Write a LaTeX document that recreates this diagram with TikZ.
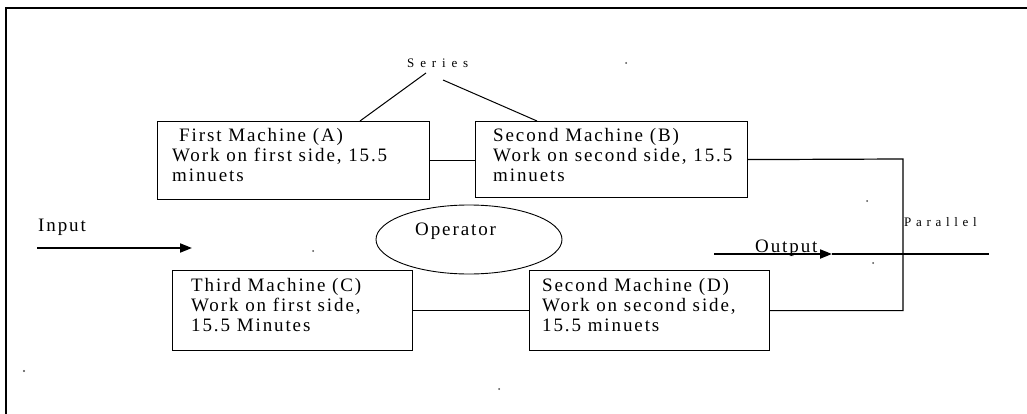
\documentclass[tikz,border=0pt]{standalone}
\usepackage{fontspec}
\setmainfont{Liberation Serif}
\usetikzlibrary{arrows.meta,shapes.geometric,calc}
\tikzset{
  box/.style={draw, line width=1.2pt, rectangle, inner sep=0pt, anchor=north west},
  txt/.style={anchor=base west, align=left, inner sep=0pt, font=\fontsize{19}{20}\selectfont\addfontfeature{LetterSpace=10}},
  tiny/.style={anchor=base west, inner sep=0pt},
  conn/.style={line width=1.2pt},
  bigarrow/.style={line width=2pt, -{Triangle[length=12pt,width=9pt]}},
  straydot/.style={fill=black!70, draw=none},
}
\begin{document}
\begin{tikzpicture}[x=1pt,y=-1pt]
\useasboundingbox (0,0) rectangle (1027,414);
% frame (top and left)
\draw[line width=2pt] (6,414) -- (6,8) -- (1027,8);

% boxes
\node[box, minimum width=272pt, minimum height=78pt] (A) at (157,121) {};
\node[box, minimum width=272pt, minimum height=76pt] (B) at (475,121) {};
\node[box, minimum width=240pt, minimum height=80pt] (C) at (172,270) {};
\node[box, minimum width=240pt, minimum height=80pt] (D) at (529,270) {};

% box texts (anchored at the baseline of the last line)
\node[txt] (At) at (172,182) {\hspace{7pt}First Machine (A)\\Work on first side, 15.5\\minuets};
\node[txt] (Bt) at (493,182) {Second Machine (B)\\Work on second side, 15.5\\minuets};
\node[txt] (Ct) at (191,331) {Third Machine (C)\\Work on first side,\\15.5 Minutes};
\node[txt] (Dt) at (542,331) {Second Machine (D)\\Work on second side,\\15.5 minuets};

% operator ellipse
\node[draw, ellipse, line width=0.9pt, minimum width=186pt, minimum height=69pt, inner sep=0pt] (O) at (469,239.5) {};
\node[txt] (Ot) at (415,235) {Operator};

% series label and lines
\node[tiny, font=\fontsize{13}{13}\selectfont\addfontfeature{LetterSpace=45}] (S) at (407,68) {Series};
\coordinate (S1) at (426,73);
\coordinate (S2) at (443,80);
\coordinate (A1) at (360,121);
\coordinate (B1) at (537,121);
\draw[line width=1pt] (S1) -- (A1);
\draw[line width=1pt] (S2) -- (B1);

% connectors
\draw[conn] (A.east) -- (A.east -| B.west);
\draw[conn] (C.east) -- (D.west);
\coordinate (R) at (903,159);
\draw[conn] (B.east) -- (R) |- (D.east);

% parallel label
\node[tiny, font=\fontsize{13}{13}\selectfont\addfontfeature{LetterSpace=36}] (P) at (904,226) {Parallel};

% input
\node[txt] (In) at (38,231) {Input};
\coordinate (I1) at (37,248);
\coordinate (I2) at (192,248);
\draw[bigarrow] (I1) -- (I2);

% output
\node[txt] (Out) at (755,252) {Output};
\coordinate (O1) at (714,254);
\coordinate (O2) at (832,254);
\coordinate (O3) at (989,254);
\draw[bigarrow] (O1) -- (O2);
\draw[line width=1.2pt] (O2) -- (O3);

% stray dots
\fill[straydot] (626,63) circle (1pt);
\fill[straydot] (867,201) circle (1pt);
\fill[straydot] (873,263) circle (1pt);
\fill[straydot] (313,251) circle (1pt);
\fill[straydot] (24,371) circle (1.2pt);
\fill[straydot] (499,389) circle (1pt);
\end{tikzpicture}
\end{document}
